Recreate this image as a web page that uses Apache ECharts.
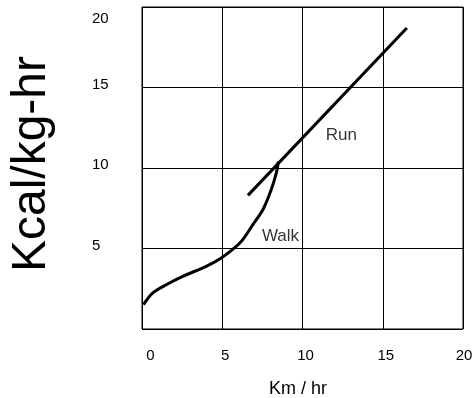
<!DOCTYPE html>
<html><head><meta charset="utf-8">
<script src="https://cdn.jsdelivr.net/npm/echarts@6/dist/echarts.min.js"></script>
<style>html,body{margin:0;padding:0;background:#fff}#c{width:474px;height:398px}</style>
</head><body><div id="c"></div>
<script>
var xTicks = [0, 5, 10, 15, 20];
var yTicks = [0, 5, 10, 15, 20];
var walkX = [0.09, 0.67, 1.51, 2.54, 4.0, 4.94, 5.87, 6.28, 6.91, 7.53, 8.05, 8.37, 8.5];
var walkY = [1.51, 2.24, 2.75, 3.27, 3.89, 4.41, 5.13, 5.55, 6.48, 7.41, 8.65, 9.69, 10.4];
var runX = [6.6, 16.5];
var runY = [8.3, 18.7];
var curveNames = ['Walk', 'Run'];
var labelX = [8.63, 12.42];
var labelY = [5.75, 12.05];

var FONT = 'Liberation Sans, Arial, sans-serif';
function zip(a, b) { return a.map(function (v, i) { return [v, b[i]]; }); }

var chart = echarts.init(document.getElementById('c'));
chart.setOption({
  animation: false,
  textStyle: { fontFamily: FONT },
  grid: { left: 142, top: 7, right: 11, bottom: 69, show: true, borderColor: '#000', borderWidth: 1, containLabel: false, outerBoundsMode: 'none' },
  xAxis: {
    type: 'value', min: xTicks[0], max: xTicks[xTicks.length - 1], interval: 5,
    name: 'Km / hr', nameLocation: 'middle', nameGap: 51,
    nameTextStyle: { fontSize: 18, color: '#000', fontFamily: FONT, padding: [0, 9, 0, 0] },
    axisLine: { show: false }, axisTick: { show: false },
    splitLine: { show: true, lineStyle: { color: '#000', width: 1 } },
    axisLabel: {
      margin: 19, color: '#000', fontSize: 15, fontFamily: FONT,
      formatter: function (v) {
        if (v === 0) return '{z|0}';
        if (v === 20) return '{e|20}';
        return '{m|' + v + '}';
      },
      rich: {
        z: { fontSize: 15, fontFamily: FONT, color: '#000', padding: [0, 0, 0, 17] },
        m: { fontSize: 15, fontFamily: FONT, color: '#000', padding: [0, 0, 0, 6] },
        e: { fontSize: 15, fontFamily: FONT, color: '#000', padding: [0, 0, 0, 2] }
      }
    }
  },
  yAxis: {
    type: 'value', min: yTicks[0], max: yTicks[yTicks.length - 1], interval: 5,
    name: 'Kcal/kg-hr', nameLocation: 'middle', nameGap: 86,
    nameTextStyle: { fontSize: 48, color: '#000', fontFamily: FONT, padding: [0, 0, 0, 8] },
    axisLine: { show: false }, axisTick: { show: false },
    splitLine: { show: true, lineStyle: { color: '#000', width: 1 } },
    axisLabel: {
      margin: 50, align: 'left', color: '#000', fontSize: 15, fontFamily: FONT,
      formatter: function (v) {
        if (v === 0) return '';
        if (v === 20) return '{t|20}';
        return '{u|' + v + '}';
      },
      rich: {
        t: { fontSize: 15, fontFamily: FONT, color: '#000', padding: [24, 0, 0, 0] },
        u: { fontSize: 15, fontFamily: FONT, color: '#000', padding: [0, 0, 6, 0] }
      }
    }
  },
  series: [
    {
      type: 'line', name: curveNames[0], data: zip(walkX, walkY), smooth: 0.3,
      symbol: 'none', lineStyle: { color: '#000', width: 3 }
    },
    {
      type: 'line', name: curveNames[1], data: zip(runX, runY),
      symbol: 'none', lineStyle: { color: '#000', width: 3 }
    },
    {
      type: 'scatter', symbolSize: 0,
      data: curveNames.map(function (n, i) { return { name: n, value: [labelX[i], labelY[i]] }; }),
      label: { show: true, position: 'inside', formatter: '{b}', color: '#000', fontSize: 17, fontFamily: FONT }
    }
  ]
});
</script></body></html>
